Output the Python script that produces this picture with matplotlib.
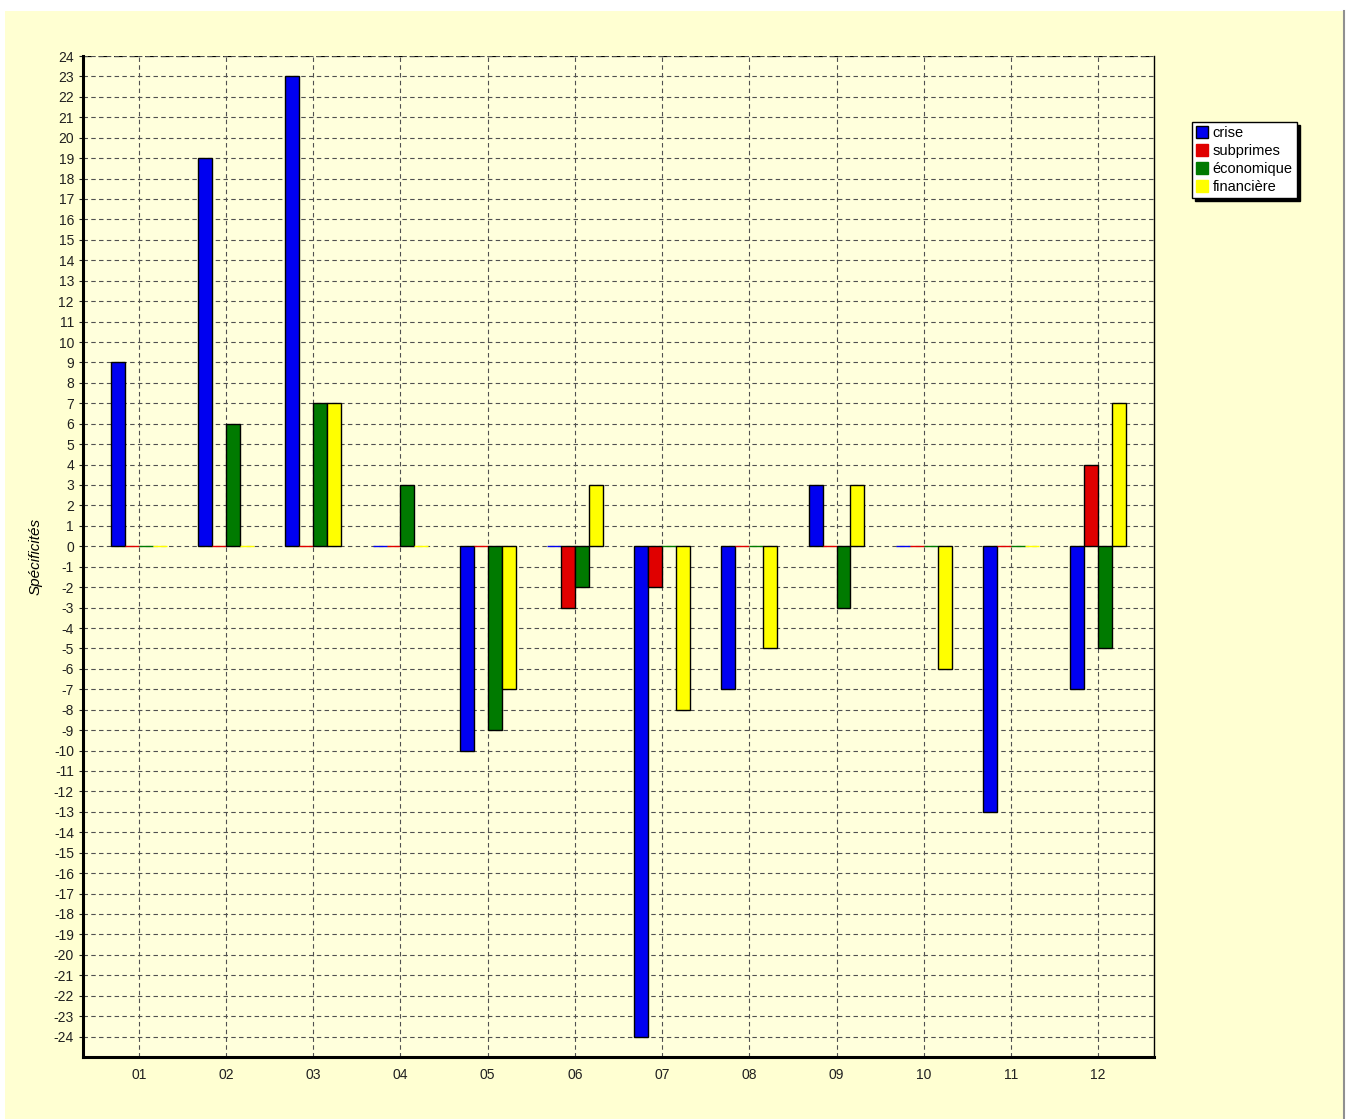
import numpy as np
import matplotlib.pyplot as plt
from matplotlib.patches import Rectangle
from matplotlib.lines import Line2D

plt.rcParams['font.family'] = ['Liberation Sans', 'DejaVu Sans']
plt.rcParams['axes.unicode_minus'] = False

months = ['01', '02', '03', '04', '05', '06', '07', '08', '09', '10', '11', '12']
crise = [9, 19, 23, 0, -10, 0, -24, -7, 3, 0, -13, -7]
subprimes = [0, 0, 0, 0, 0, -3, -2, 0, 0, 0, 0, 4]
economique = [0, 6, 7, 3, -9, -2, 0, 0, -3, 0, 0, -5]
financiere = [0, 0, 7, 0, -7, 3, -8, -5, 3, -6, 0, 7]

series = [('crise', crise, '#0000f0'),
          ('subprimes', subprimes, '#e00000'),
          ('économique', economique, '#007a00'),
          ('financière', financiere, '#ffff00')]

bg = '#ffffd2'
fig = plt.figure(figsize=(13.52, 11.19), dpi=100, facecolor='white')
# yellow panel like the original window
fig.patches.append(Rectangle((5 / 1352, 0), 1338 / 1352, 1 - 11 / 1119,
                             transform=fig.transFigure, facecolor=bg,
                             edgecolor='none', zorder=-10))
fig.lines.append(Line2D([1344 / 1352, 1344 / 1352], [0, 1 - 11 / 1119],
                        transform=fig.transFigure, color='#909090', lw=1.5))

ax = fig.add_axes([83 / 1352, 62 / 1119, 1071 / 1352, 1001 / 1119])
ax.set_facecolor('#ffffdc')

x = np.arange(len(months))
w = 0.16
for i, (name, vals, col) in enumerate(series):
    vals = np.array(vals)
    edges = ['black' if v != 0 else col for v in vals]
    ax.bar(x + (i - 1.5) * w, vals, width=w, color=col, edgecolor=edges,
           linewidth=1.0, label=name, zorder=3)

ax.set_xlim(-0.64, 11.64)
ax.set_ylim(-25, 24)
ax.set_yticks(np.arange(-24, 25, 1))
ax.set_xticks(x)
ax.set_xticklabels(months)
ax.tick_params(axis='both', labelsize=10, colors='#202020', length=3, width=0.8)
ax.tick_params(axis='x', length=0, pad=8)
ax.grid(True, linestyle=(0, (4, 3)), color='#505050', linewidth=0.8, zorder=0)

ax.spines['top'].set_visible(False)
ax.spines['right'].set_linewidth(1.0)
ax.spines['left'].set_linewidth(2.2)
ax.spines['bottom'].set_linewidth(2.2)
ax.axhline(24, color='black', linestyle=(0, (4, 3)), linewidth=1.6, zorder=1)

ax.set_ylabel('Spécificités', fontsize=11, style='italic', labelpad=8)

leg = ax.legend(loc='upper left', bbox_to_anchor=(1192 / 1352, 1 - 122 / 1119),
                bbox_transform=fig.transFigure, frameon=True, fancybox=False,
                shadow={'color': 'black', 'alpha': 1.0}, fontsize=10.5,
                handlelength=0.8, handleheight=0.9, handletextpad=0.3,
                labelspacing=0.25, borderpad=0.3, borderaxespad=0)
leg.get_frame().set_edgecolor('black')
leg.get_frame().set_linewidth(1.0)

fig.savefig('out.png', dpi=100, facecolor='white')
